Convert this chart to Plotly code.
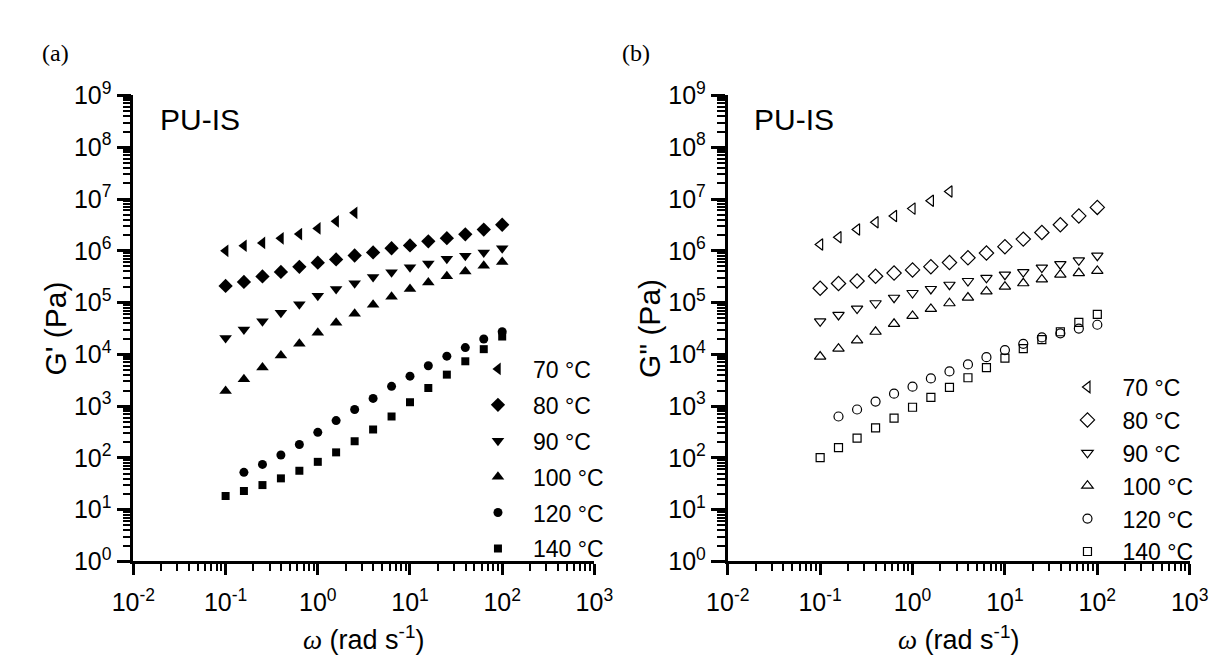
import plotly.graph_objects as go

omega = [0.1, 0.158, 0.251, 0.398, 0.631, 1.0, 1.58, 2.51, 3.98, 6.31,
         10.0, 15.8, 25.1, 39.8, 63.1, 100.0]

temps = ["70 °C", "80 °C", "90 °C", "100 °C", "120 °C", "140 °C"]

# G' (Pa), panel (a)
gp_70 = [1.0e6, 1.25e6, 1.42e6, 1.74e6, 2.1e6, 2.7e6, 3.7e6, 5.4e6]
gp_80 = [2.1e5, 2.5e5, 3.2e5, 3.9e5, 4.9e5, 5.9e5, 6.8e5, 8.1e5, 9.3e5, 1.12e6,
         1.27e6, 1.52e6, 1.75e6, 2.08e6, 2.57e6, 3.18e6]
gp_90 = [2.06e4, 3.02e4, 4.35e4, 6.36e4, 9.3e4, 1.35e5, 1.83e5, 2.36e5, 3.13e5, 3.87e5,
         4.79e5, 5.67e5, 7.0e5, 8.05e5, 9.3e5, 1.12e6]
gp_100 = [1.95e3, 3.29e3, 5.55e3, 9.5e3, 1.6e4, 2.62e4, 4.06e4, 6.1e4, 9.06e4, 1.29e5,
          1.83e5, 2.43e5, 3.23e5, 3.99e5, 5.14e5, 6.1e5]
gp_120 = [52.7, 75, 114, 182, 312, 526, 861, 1410, 2410,
          3790, 6040, 9230, 1.35e4, 1.98e4, 2.73e4]
gp_140 = [18.3, 22.9, 29.9, 40.3, 56.5, 84, 128, 210, 354, 631,
          1190, 2240, 4060, 7350, 1.26e4, 2.21e4]

# G'' (Pa), panel (b)
gpp_70 = [1.32e6, 1.83e6, 2.57e6, 3.55e6, 4.71e6, 6.52e6, 9.27e6, 1.40e7]
gpp_80 = [1.89e5, 2.33e5, 2.61e5, 3.23e5, 3.71e5, 4.27e5, 4.93e5, 5.92e5, 7.31e5, 9.04e5,
          1.2e6, 1.68e6, 2.26e6, 3.18e6, 4.71e6, 6.89e6]
gpp_90 = [4.35e4, 5.77e4, 7.66e4, 9.7e4, 1.24e5, 1.53e5, 1.83e5, 2.21e5, 2.61e5, 3.01e5,
          3.46e5, 3.87e5, 4.73e5, 5.51e5, 6.53e5, 8.05e5]
gpp_100 = [9.07e3, 1.29e4, 1.86e4, 2.73e4, 3.89e4, 5.53e4, 7.53e4, 9.7e4, 1.25e5, 1.64e5,
           2.03e5, 2.36e5, 2.8e5, 3.46e5, 3.71e5, 4.09e5]
gpp_120 = [631, 861, 1225, 1740, 2380, 3430, 4690, 6380, 8830,
           1.21e4, 1.6e4, 2.12e4, 2.55e4, 3.15e4, 3.73e4]
gpp_140 = [101, 158, 242, 380, 589, 951, 1470, 2310, 3530, 5550,
           8470, 1.29e4, 1.92e4, 2.73e4, 4.16e4, 5.94e4]

x_tickvals = [1e-2, 1e-1, 1, 10, 100, 1000]
x_ticktext = ["10<sup>-2</sup>", "10<sup>-1</sup>", "10<sup>0</sup>",
              "10<sup>1</sup>", "10<sup>2</sup>", "10<sup>3</sup>"]
y_tickvals = [10 ** i for i in range(10)]
y_ticktext = ["10<sup>%d</sup>" % i for i in range(10)]

FONT = "Liberation Sans, Arial, sans-serif"
SERIF = "Liberation Serif, Times New Roman, serif"
W, H = 1221, 655

left_series = [
    (gp_70, omega[:8], "triangle-left", 11),
    (gp_80, omega, "diamond", 11),
    (gp_90, omega, "triangle-down", 11),
    (gp_100, omega, "triangle-up", 11),
    (gp_120, omega[1:], "circle", 9),
    (gp_140, omega, "square", 8),
]
right_series = [
    (gpp_70, omega[:8], "triangle-left-open", 10),
    (gpp_80, omega, "diamond-open", 11),
    (gpp_90, omega, "triangle-down-open", 10),
    (gpp_100, omega, "triangle-up-open", 10),
    (gpp_120, omega[1:], "circle-open", 9),
    (gpp_140, omega, "square-open", 8),
]

fig = go.Figure()
for i, (ys, xs, sym, sz) in enumerate(left_series):
    fig.add_trace(go.Scatter(
        x=xs, y=ys, mode="markers", name=temps[i],
        marker=dict(symbol=sym, size=sz, color="black", line=dict(width=0)),
        xaxis="x", yaxis="y", legend="legend", legendgroup="a%d" % i))
for i, (ys, xs, sym, sz) in enumerate(right_series):
    fig.add_trace(go.Scatter(
        x=xs, y=ys, mode="markers", name=temps[i],
        marker=dict(symbol=sym, size=sz, color="black", line=dict(width=1.2, color="black")),
        xaxis="x2", yaxis="y2", legend="legend2", legendgroup="b%d" % i))

TOP, BOT = 73, 563
ydom = [(H - BOT) / H, (H - TOP) / H]
L1, R1 = 107, 584
L2, R2 = 722, 1200


def xax(dom, anchor):
    return dict(type="log", range=[-2, 3], domain=dom, anchor=anchor,
                tickmode="array", tickvals=x_tickvals, ticktext=x_ticktext,
                ticks="outside", ticklen=11, tickwidth=2.5, tickcolor="black",
                ticklabelstandoff=6,
                showline=True, linewidth=2.8, linecolor="black",
                showgrid=False, zeroline=False,
                tickfont=dict(family=FONT, size=25, color="black"),
                minor=dict(ticks="outside", ticklen=7, tickwidth=2, tickcolor="black",
                           dtick="D1", showgrid=False))


def yax(dom, anchor):
    return dict(type="log", range=[0, 9], domain=dom, anchor=anchor,
                tickmode="array", tickvals=y_tickvals, ticktext=y_ticktext,
                ticks="outside", ticklen=14, tickwidth=2.5, tickcolor="black",
                showline=True, linewidth=2.8, linecolor="black",
                showgrid=False, zeroline=False,
                tickfont=dict(family=FONT, size=25, color="black"),
                minor=dict(ticks="outside", ticklen=8, tickwidth=2, tickcolor="black",
                           dtick="D1", showgrid=False))


def ann(text, x, y, size, family=FONT, angle=0, xanchor="left"):
    return dict(text=text, x=x / W, y=1 - y / H, xref="paper", yref="paper",
                xanchor=xanchor, yanchor="middle", showarrow=False, textangle=angle,
                font=dict(family=family, size=size, color="black"))


omega_title = ("<span style=\"font-family:'Liberation Serif';font-style:italic\">ω</span>"
               " (rad s<sup>-1</sup>)")

fig.update_layout(
    width=W, height=H,
    margin=dict(l=0, r=0, t=0, b=0),
    paper_bgcolor="white", plot_bgcolor="white",
    xaxis=xax([L1 / W, R1 / W], "y"),
    yaxis=yax(ydom, "x"),
    xaxis2=xax([L2 / W, R2 / W], "y2"),
    yaxis2=yax(ydom, "x2"),
    legend=dict(x=448 / W, y=1 - 338 / H, xanchor="left", yanchor="top",
                font=dict(family=FONT, size=23, color="black"),
                bgcolor="rgba(0,0,0,0)", tracegroupgap=3, itemwidth=60),
    legend2=dict(x=1058 / W, y=1 - 357 / H, xanchor="left", yanchor="top",
                 font=dict(family=FONT, size=23, color="black"),
                 bgcolor="rgba(0,0,0,0)", tracegroupgap=0, itemwidth=60),
    annotations=[
        ann("(a)", 10, 28, 24, SERIF),
        ann("(b)", 611, 28, 24, SERIF),
        ann("PU-IS", 132, 98, 30),
        ann("PU-IS", 747, 98, 30),
        ann("G' (Pa)", 26, (TOP + BOT) / 2, 30, angle=-90, xanchor="center"),
        ann("G\" (Pa)", 641, (TOP + BOT) / 2, 30, angle=-90, xanchor="center"),
        ann(omega_title, (L1 + R1) / 2, 643, 27, xanchor="center"),
        ann(omega_title, (L2 + R2) / 2, 643, 27, xanchor="center"),
    ],
)

fig.write_html("out.html")
